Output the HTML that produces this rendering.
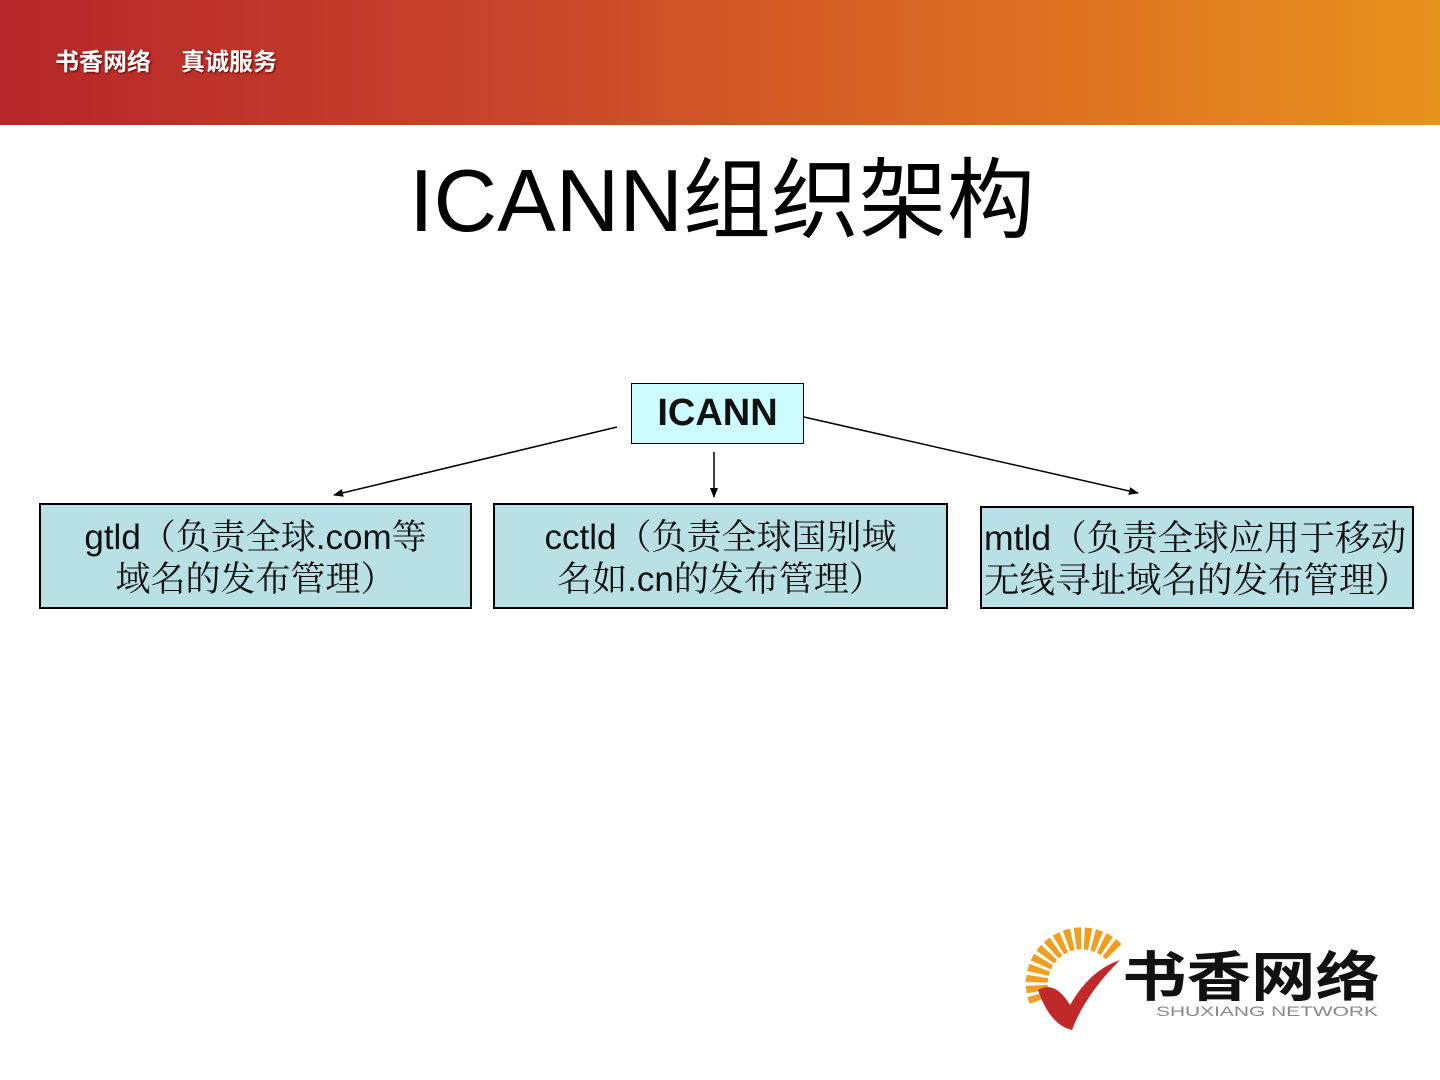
<!DOCTYPE html>
<html><head><meta charset="utf-8"><style>
body{margin:0;width:1440px;height:1080px;position:relative;background:#fff;overflow:hidden;font-family:"Liberation Sans","Noto Sans CJK SC",sans-serif}
.hdr{position:absolute;left:0;top:0;width:1440px;height:125px;background:linear-gradient(90deg,#b6262a 0%,#c8442a 35%,#dc6e22 70%,#e8921e 100%)}
.hdr span{position:absolute;top:42px;color:#fff;font-weight:bold;font-size:24px;text-shadow:1px 1px 2px #600}
.title{position:absolute;left:0;width:1440px;top:146px;text-align:center;font-size:88px;color:#000;line-height:110px;padding-left:2px}
.box{position:absolute;background:#b9e0e4;border:2px solid #000;box-sizing:border-box;text-align:center;font-family:"Liberation Sans","Noto Serif CJK SC",serif;font-size:35px;line-height:42px;color:#111;white-space:nowrap}
</style></head><body>
<div class="hdr"><span style="left:55px">书香网络</span><span style="left:181px">真诚服务</span></div>
<div class="title">ICANN组织架构</div>
<div class="box" style="left:631px;top:383px;width:173px;height:61px;background:#ccfcff;border-width:1.5px;font-family:'Liberation Sans',sans-serif;font-weight:bold;font-size:38px;line-height:58px">ICANN</div>
<div class="box" style="left:39px;top:503px;width:433px;height:106px;padding-top:12px">gtld（负责全球.com等<br>域名的发布管理）</div>
<div class="box" style="left:493px;top:503px;width:455px;height:106px;padding-top:12px">cctld（负责全球国别域<br>名如.cn的发布管理）</div>
<div class="box" style="left:980px;top:506px;width:434px;height:103px;padding-top:9px;font-size:35.5px;text-align:left;padding-left:2px;overflow:hidden">mtld（负责全球应用于移动<br>无线寻址域名的发布管理）</div>
<svg width="1440" height="1080" style="position:absolute;left:0;top:0">
<defs><marker id="a" markerWidth="10" markerHeight="8" refX="9" refY="4" orient="auto" markerUnits="userSpaceOnUse"><path d="M0,0L10,4L0,8z" fill="#000"/></marker></defs>
<g stroke="#000" stroke-width="1.5" fill="none" marker-end="url(#a)">
<line x1="617" y1="427" x2="334" y2="495"/>
<line x1="714" y1="452" x2="714" y2="497"/>
<line x1="804" y1="417" x2="1138" y2="493"/>
</g>
<g transform="translate(1030,945)">
<path d="M10,55 A45,45 0 0 1 85,8" stroke="#f0a020" stroke-width="22" fill="none" stroke-dasharray="6 3"/>
<path d="M8,45 Q25,35 40,60 Q60,25 90,15 Q55,50 42,85 Q20,80 8,45z" fill="#c0282a"/>
</g>
<text x="1122" y="996" font-family="Noto Sans CJK SC,sans-serif" font-weight="bold" font-size="54" fill="#111" textLength="258" lengthAdjust="spacingAndGlyphs">书香网络</text>
<text x="1156" y="1016" font-family="Liberation Sans,sans-serif" font-size="14" fill="#888" textLength="222" lengthAdjust="spacingAndGlyphs">SHUXIANG NETWORK</text>
</svg>
</body></html>
